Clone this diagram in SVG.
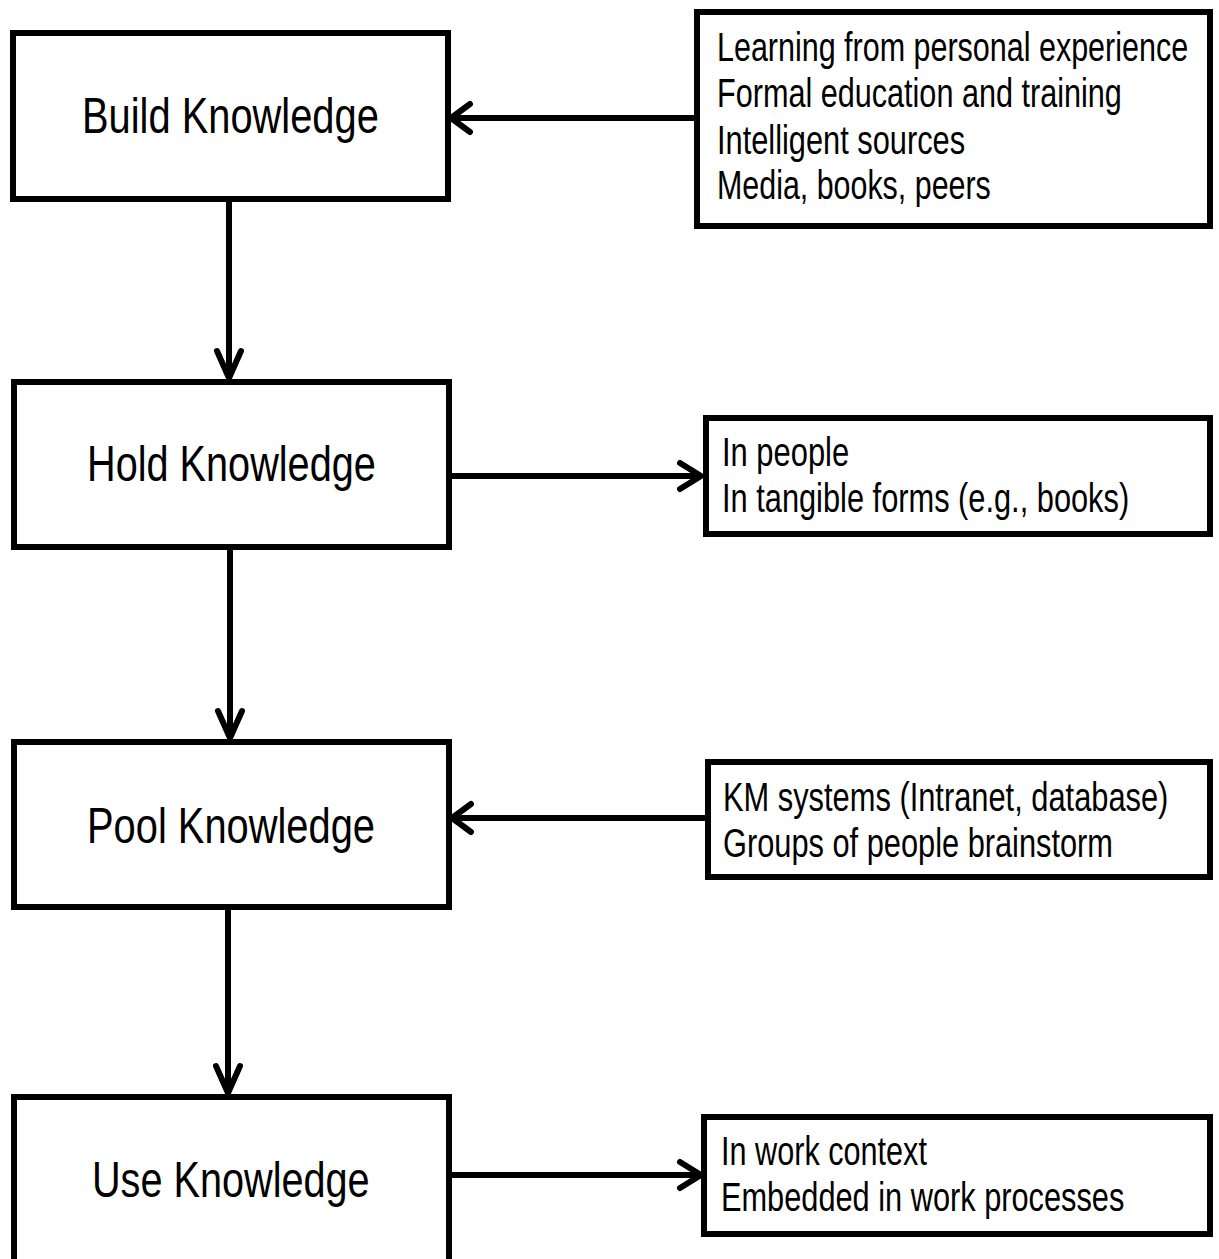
<svg xmlns="http://www.w3.org/2000/svg" width="1219" height="1259" viewBox="0 0 1219 1259">
  <style>
    .box { fill: #ffffff; stroke: #000000; stroke-width: 6; }
    .title { font-family: "Liberation Sans", Arial, sans-serif; font-size: 50px; fill: #000000; }
    .note { font-family: "Liberation Sans", Arial, sans-serif; font-size: 40px; fill: #000000; }
    .wire { fill: none; stroke: #000000; stroke-width: 6; }
    .head { fill: none; stroke: #000000; stroke-width: 6; stroke-linecap: round; stroke-linejoin: round; }
  </style>
  <rect width="1219" height="1259" fill="#ffffff"/>

  <!-- process steps (narrow lettering: horizontally condensed text) -->
  <g id="build">
    <rect class="box" x="13" y="33" width="435" height="166"/>
    <text class="title" transform="matrix(0.8 0 0 1 82 0)" x="0" y="133" textLength="371" lengthAdjust="spacingAndGlyphs">Build Knowledge</text>
  </g>
  <g id="hold">
    <rect class="box" x="14" y="382" width="435" height="165"/>
    <text class="title" transform="matrix(0.8 0 0 1 87 0)" x="0" y="481" textLength="361" lengthAdjust="spacingAndGlyphs">Hold Knowledge</text>
  </g>
  <g id="pool">
    <rect class="box" x="14" y="742" width="435" height="165"/>
    <text class="title" transform="matrix(0.8 0 0 1 87 0)" x="0" y="843" textLength="360" lengthAdjust="spacingAndGlyphs">Pool Knowledge</text>
  </g>
  <g id="use">
    <rect class="box" x="14" y="1097" width="435" height="170"/>
    <text class="title" transform="matrix(0.8 0 0 1 92 0)" x="0" y="1197" textLength="347" lengthAdjust="spacingAndGlyphs">Use Knowledge</text>
  </g>

  <!-- side notes -->
  <g id="build-sources">
    <rect class="box" x="697" y="12" width="513" height="214"/>
    <text class="note" transform="matrix(0.78 0 0 1 717 0)" x="0" y="61" textLength="604" lengthAdjust="spacingAndGlyphs">Learning from personal experience</text>
    <text class="note" transform="matrix(0.78 0 0 1 717 0)" x="0" y="107" textLength="519" lengthAdjust="spacingAndGlyphs">Formal education and training</text>
    <text class="note" transform="matrix(0.78 0 0 1 717 0)" x="0" y="154" textLength="318" lengthAdjust="spacingAndGlyphs">Intelligent sources</text>
    <text class="note" transform="matrix(0.78 0 0 1 717 0)" x="0" y="199" textLength="351" lengthAdjust="spacingAndGlyphs">Media, books, peers</text>
  </g>
  <g id="hold-places">
    <rect class="box" x="706" y="418" width="504" height="116"/>
    <text class="note" transform="matrix(0.78 0 0 1 722 0)" x="0" y="466" textLength="163" lengthAdjust="spacingAndGlyphs">In people</text>
    <text class="note" transform="matrix(0.78 0 0 1 722 0)" x="0" y="512" textLength="522" lengthAdjust="spacingAndGlyphs">In tangible forms (e.g., books)</text>
  </g>
  <g id="pool-means">
    <rect class="box" x="708" y="762" width="502" height="115"/>
    <text class="note" transform="matrix(0.78 0 0 1 723 0)" x="0" y="811" textLength="571" lengthAdjust="spacingAndGlyphs">KM systems (Intranet, database)</text>
    <text class="note" transform="matrix(0.78 0 0 1 723 0)" x="0" y="857" textLength="500" lengthAdjust="spacingAndGlyphs">Groups of people brainstorm</text>
  </g>
  <g id="use-places">
    <rect class="box" x="704" y="1117" width="506" height="117"/>
    <text class="note" transform="matrix(0.78 0 0 1 721 0)" x="0" y="1165" textLength="264" lengthAdjust="spacingAndGlyphs">In work context</text>
    <text class="note" transform="matrix(0.78 0 0 1 721 0)" x="0" y="1211" textLength="517" lengthAdjust="spacingAndGlyphs">Embedded in work processes</text>
  </g>

  <!-- connectors -->
  <g id="connectors">
    <!-- sources into Build -->
    <path class="wire" d="M697 118 H452"/>
    <path class="head" d="M470 104 L451 118 L470 132"/>
    <!-- Build to Hold -->
    <path class="wire" d="M229 202 V376"/>
    <path class="head" d="M217 351 L229 378 L241 351"/>
    <!-- Hold to Pool -->
    <path class="wire" d="M230 550 V736"/>
    <path class="head" d="M218 711 L230 738 L242 711"/>
    <!-- Pool to Use -->
    <path class="wire" d="M228 910 V1091"/>
    <path class="head" d="M216 1066 L228 1093 L240 1066"/>
    <!-- Hold to its note -->
    <path class="wire" d="M452 476 H699"/>
    <path class="head" d="M680 463 L701 476 L680 489"/>
    <!-- means into Pool -->
    <path class="wire" d="M708 818 H453"/>
    <path class="head" d="M471 804 L452 818 L471 832"/>
    <!-- Use to its note -->
    <path class="wire" d="M452 1175 H699"/>
    <path class="head" d="M680 1162 L701 1175 L680 1188"/>
  </g>
</svg>
